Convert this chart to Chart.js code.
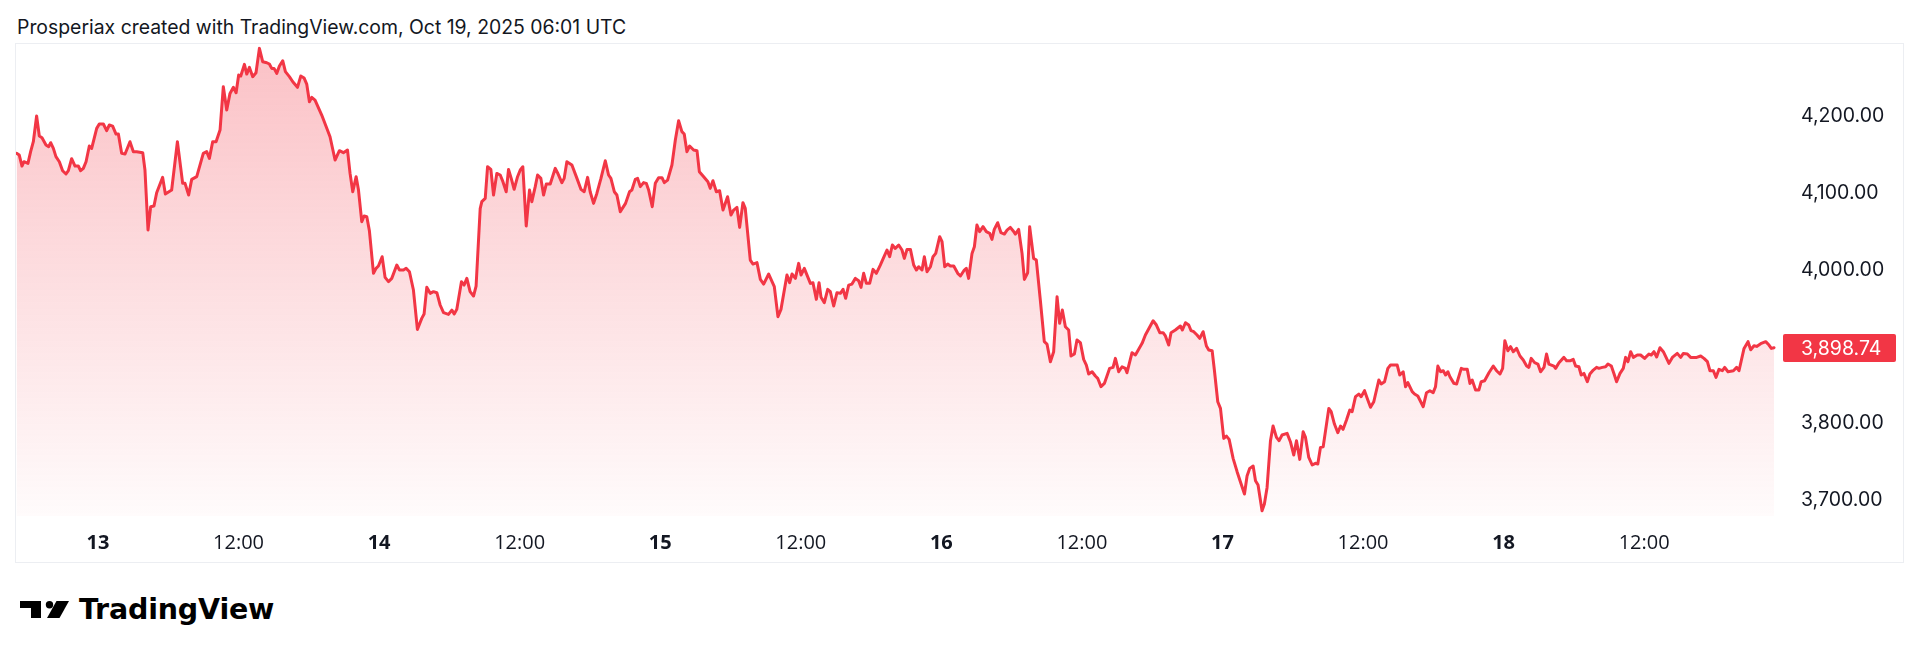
<!DOCTYPE html>
<html>
<head>
<meta charset="utf-8">
<title>ETH price - TradingView snapshot</title>
<script src="https://cdn.jsdelivr.net/npm/chart.js@4.4.1/dist/chart.umd.min.js"></script>
<style>
  html, body { margin: 0; padding: 0; background: #fff; }
  body { width: 1920px; height: 660px; position: relative; overflow: hidden; font-family: Inter, "Open Sans", sans-serif; color: #131722; }
  #title { position: absolute; left: 17px; top: 15px; font-size: 19.4px; line-height: 24px; white-space: nowrap; }
  #panel { position: absolute; left: 15px; top: 43px; width: 1887px; height: 518px; border: 1px solid #eceef2; }
  #panel canvas { display: block; }
  #logo { position: absolute; left: 20px; top: 592px; display: flex; align-items: center; height: 34px; }
  #logo span { font-family: "DejaVu Sans", Inter, sans-serif; font-weight: 700; font-size: 28.5px; margin-left: 10px; letter-spacing: -0.2px; color: #000; }
</style>
</head>
<body>
<div id="title">Prosperiax created with TradingView.com, Oct 19, 2025 06:01 UTC</div>
<div id="panel"><canvas id="priceChart" width="1887" height="518"></canvas></div>
<div id="logo">
  <svg width="49" height="17" viewBox="0 0 49 17">
    <path d="M0 0H21V17H11V7H0Z" fill="#000"/>
    <circle cx="29.5" cy="3.7" r="3.7" fill="#000"/>
    <path d="M36.5 0H49L39.5 17H27Z" fill="#000"/>
  </svg>
  <span>TradingView</span>
</div>

<script>
// hours after Oct 13 00:00 and the price at each turning point of the line
const hours = [
  -6.95, -6.72, -6.49, -6.32, -5.98, -5.75, -5.52, -5.24, -5.01, -4.78, -4.44, -4.21, -4.04, -3.81, -3.59, -3.30,
  -3.02, -2.73, -2.53, -2.25, -1.96, -1.68, -1.48, -1.25, -1.02, -0.74, -0.54, -0.11, 0.11, 0.46, 0.74, 0.97,
  1.25, 1.54, 1.74, 2.02, 2.31, 2.73, 3.02, 3.30, 3.82, 4.01, 4.27, 4.50, 4.78, 5.01, 5.52, 5.75,
  6.29, 6.78, 7.23, 7.43, 7.74, 8.00, 8.43, 8.99, 9.28, 9.51, 9.79, 10.08, 10.42, 10.70, 10.99, 11.27,
  11.56, 11.79, 12.01, 12.19, 12.50, 12.70, 12.93, 13.21, 13.49, 13.78, 14.06, 14.41, 14.63, 14.83, 15.03, 15.26,
  15.49, 15.77, 16.00, 16.34, 16.63, 17.03, 17.31, 17.60, 17.82, 18.05, 18.25, 18.53, 19.10, 19.81, 20.24, 20.61,
  20.95, 21.30, 21.52, 21.75, 22.04, 22.24, 22.52, 22.72, 22.95, 23.17, 23.52, 23.74, 23.94, 24.26, 24.51, 24.80,
  25.08, 25.51, 25.74, 26.08, 26.31, 26.59, 26.93, 27.27, 27.64, 27.84, 28.07, 28.36, 28.64, 28.93, 29.21, 29.50,
  29.92, 30.21, 30.41, 30.63, 31.03, 31.26, 31.49, 31.77, 32.06, 32.28,
  32.63, 32.77, 33.06, 33.26, 33.54, 33.77, 34.05, 34.34, 34.57, 34.85, 35.05, 35.28, 35.53, 35.82, 36.05, 36.27,
  36.56, 36.84, 37.04, 37.33, 37.53, 37.81, 38.04, 38.27, 38.61, 39.04, 39.23, 39.60, 39.80, 40.03, 40.46, 40.89,
  41.23, 41.51, 41.80, 42.02, 42.31, 42.59, 42.94, 43.31, 43.59, 43.79, 44.08, 44.30, 44.59, 45.04, 45.38, 45.58,
  45.87, 46.07, 46.30, 46.58, 46.81, 47.01, 47.32, 47.58, 47.86, 48.15, 48.35, 48.63, 49.00, 49.29, 49.57, 49.85,
  50.05, 50.28, 50.51, 50.85, 51.14, 51.34, 51.71, 52.07, 52.27, 52.50, 52.79, 53.07, 53.36, 53.75, 54.04, 54.27,
  54.55, 54.78, 55.06, 55.26, 55.69, 55.92, 56.26, 56.55, 56.83, 57.26, 57.74, 58.05, 58.31, 58.82, 59.05, 59.25,
  59.54, 59.82, 60.02, 60.30, 60.82, 61.04, 61.33, 61.56, 61.73, 62.01, 62.30, 62.52, 62.81, 63.09, 63.38, 63.61,
  63.83, 64.09, 64.37, 64.66, 64.94, 65.14, 65.37, 65.60, 65.88, 66.17, 66.45, 66.79, 67.08, 67.36, 67.59, 67.82,
  68.07, 68.36, 68.64, 68.84, 69.07, 69.36, 69.64, 69.87, 70.07, 70.35, 70.55, 70.78, 71.07, 71.29, 71.52, 71.86,
  72.06, 72.29, 72.54, 72.77, 73.06, 73.40, 73.63,
  73.96, 74.13, 74.33, 74.62, 74.82, 75.04, 75.27, 75.56, 75.84, 76.13, 76.32, 76.52, 76.81, 77.09, 77.38, 77.61,
  77.89, 78.12, 78.32, 78.60, 78.89, 79.09, 79.37, 79.54, 79.88, 80.11, 80.45, 80.79, 81.02, 81.31, 81.59, 81.88,
  82.10, 82.33, 82.59, 82.87, 83.07, 83.36, 83.58, 83.87, 84.15, 84.38, 84.58, 84.87, 85.15, 85.35, 85.63, 85.92,
  86.37, 86.66, 86.86, 87.14, 87.43, 87.71, 87.85, 88.28, 88.57, 89.14, 89.42, 90.08, 90.36, 90.65, 90.93, 91.13,
  91.41, 91.61, 91.98, 92.41, 92.58, 92.84, 93.12, 93.32, 93.55, 93.83, 94.06, 94.35, 94.63, 94.83, 95.12, 95.31,
  95.60, 95.83, 96.11, 96.34, 96.57, 96.91, 97.25, 97.53, 97.88, 98.10, 98.33, 98.62, 98.82, 99.04, 99.38, 99.58,
  99.81, 100.10, 100.32, 100.61, 100.84, 101.09, 101.52, 101.80, 102.09, 102.32, 102.60, 102.89, 103.09, 103.37, 103.66, 103.94,
  104.14, 104.37, 104.60, 105.08, 105.28, 105.56, 105.85, 106.08, 106.30, 106.59, 106.87, 107.07, 107.36, 107.64, 107.84, 108.13,
  108.41, 108.64, 108.92, 109.35, 109.55, 109.84, 110.12, 110.35, 110.92, 111.14, 111.43, 111.63, 111.83, 112.20, 112.40, 112.68,
  113.14, 113.42, 113.71, 113.99, 114.19, 114.39, 114.62,
  114.85, 115.05, 115.25, 115.42, 115.76, 115.99, 116.39, 116.61, 116.90, 117.13, 117.32, 117.61, 117.89, 118.09, 118.38, 118.75,
  119.12, 119.40, 119.69, 119.92, 120.11, 120.37, 120.60, 120.83, 121.11, 121.40, 121.68, 121.97, 122.16, 122.36, 122.65, 122.93,
  123.16, 123.45, 123.67, 123.87, 124.30, 124.44, 124.73, 125.15, 125.38, 125.72, 125.95, 126.15, 126.43, 126.63, 126.86, 127.15,
  127.37, 127.66, 127.94, 128.14, 128.43, 128.71, 128.91, 129.20, 129.42, 129.65, 129.94, 130.22, 130.42, 130.62, 130.85, 131.08,
  131.42, 131.70, 132.04, 132.41, 132.61, 132.84, 133.07, 133.35, 133.64, 134.12, 134.41, 134.83, 135.12, 135.35, 135.69, 135.97,
  136.49, 136.83, 137.11, 137.40, 137.62, 137.91, 138.14, 138.39, 138.68, 138.88, 139.16, 139.62, 139.90, 140.10, 140.53, 140.87,
  141.10, 141.38, 141.61, 141.95, 142.38, 142.66, 142.86, 143.09
];

const prices = [
  4152.1, 4149.9, 4135.6, 4141.2, 4139.1, 4154.3, 4167.3, 4200.8, 4174.7, 4172.5, 4163.0, 4160.8, 4166.0, 4158.6, 4147.8, 4141.2,
  4129.5, 4125.2, 4129.5, 4145.2, 4135.6, 4135.6, 4129.5, 4132.6, 4141.2, 4161.7, 4158.6, 4184.7, 4190.4, 4190.4, 4181.7, 4189.1,
  4187.7, 4177.3, 4177.3, 4152.1, 4151.2, 4167.3, 4154.3, 4154.3, 4153.0, 4130.4, 4052.2, 4082.6, 4083.4, 4100.8, 4120.8, 4099.1,
  4104.3, 4167.3, 4113.0, 4113.0, 4097.8, 4118.2, 4121.7, 4152.1, 4154.3, 4145.6, 4167.3, 4167.3, 4182.5, 4239.0, 4208.6, 4230.3,
  4238.2, 4231.2, 4254.2, 4252.9, 4268.1, 4255.5, 4264.2, 4252.1, 4257.3, 4289.0, 4271.6, 4270.3, 4268.6, 4262.9, 4262.9, 4256.4,
  4266.0, 4272.9, 4258.6, 4252.1, 4245.5, 4238.2, 4252.9, 4250.3, 4242.5, 4219.5, 4225.1, 4221.6, 4202.1, 4173.8, 4143.4, 4155.6,
  4153.0, 4156.5, 4126.0, 4102.1, 4121.7, 4104.3, 4063.0, 4070.4, 4069.5, 4051.3, 3995.7, 4002.2, 4005.2, 4017.4, 3990.4, 3984.8,
  3989.1, 4006.5, 4000.0, 4000.0, 4002.2, 3997.8, 3973.9, 3922.6, 3937.0, 3942.6, 3977.4, 3969.6, 3971.8, 3970.4, 3954.4, 3944.4,
  3942.2, 3947.8, 3942.6, 3948.7, 3984.8, 3980.4, 3989.1, 3971.8, 3966.1, 3979.1,
  4080.0, 4089.1, 4093.4, 4134.7, 4131.2, 4097.8, 4126.0, 4123.9, 4115.2, 4102.1, 4131.2, 4119.5, 4105.2, 4121.7, 4130.4, 4134.7,
  4057.4, 4104.3, 4089.1, 4108.7, 4123.9, 4119.5, 4097.8, 4112.1, 4112.1, 4132.6, 4126.9, 4113.9, 4119.5, 4141.2, 4136.9, 4119.5,
  4105.2, 4102.1, 4120.8, 4102.1, 4086.9, 4099.9, 4119.5, 4142.5, 4123.9, 4119.5, 4102.1, 4097.8, 4076.1, 4086.9, 4102.1, 4104.3,
  4118.2, 4119.5, 4108.7, 4114.0, 4113.0, 4104.3, 4082.6, 4113.0, 4120.4, 4120.4, 4113.9, 4117.3, 4136.9, 4169.5, 4194.7, 4180.4,
  4177.3, 4154.3, 4161.7, 4156.5, 4155.6, 4128.2, 4121.7, 4115.2, 4106.5, 4116.5, 4102.1, 4103.4, 4078.2, 4095.6, 4071.7, 4078.2,
  4081.7, 4055.6, 4087.8, 4080.4, 4013.0, 4007.8, 4009.6, 3987.8, 3981.7, 3994.8, 3978.3, 3939.2, 3948.7, 3993.5, 3983.5, 3994.8,
  3989.1, 4008.7, 3993.5, 4002.2, 3982.6, 3983.5, 3961.8, 3983.5, 3964.4, 3957.4, 3974.8, 3971.8, 3953.1, 3970.4, 3969.6, 3974.8,
  3963.1, 3980.4, 3981.7, 3989.1, 3986.1, 3977.4, 3995.7, 3982.6, 3982.6, 4000.9, 3995.7, 4006.5, 4016.5, 4026.1, 4017.4, 4032.6,
  4028.2, 4032.6, 4026.1, 4015.2, 4026.9, 4026.9, 4006.5, 4000.0, 4004.3, 4000.0, 4017.4, 3997.8, 4004.3, 4017.4, 4021.7, 4043.5,
  4036.9, 4004.3, 4007.8, 4005.2, 4005.2, 3995.7, 3992.2,
  4000.0, 4002.2, 3989.1, 4021.7, 4030.4, 4058.7, 4050.0, 4056.5, 4050.0, 4047.8, 4040.0, 4053.0, 4061.7, 4048.7, 4046.9, 4052.1,
  4055.6, 4051.3, 4046.9, 4053.0, 4021.7, 3987.8, 3996.5, 4056.5, 4015.2, 4013.0, 3960.9, 3906.6, 3903.5, 3880.5, 3893.5, 3965.2,
  3930.5, 3947.8, 3926.1, 3921.8, 3887.9, 3890.5, 3908.7, 3905.3, 3883.5, 3876.1, 3864.4, 3867.4, 3861.8, 3858.8, 3847.9, 3852.2,
  3871.8, 3873.1, 3884.8, 3867.4, 3873.9, 3871.8, 3866.1, 3892.2, 3889.2, 3904.4, 3915.3, 3933.9, 3928.3, 3918.3, 3918.3, 3914.0,
  3902.2, 3918.3, 3921.8, 3927.0, 3921.8, 3931.3, 3928.3, 3920.9, 3919.6, 3915.3, 3910.9, 3919.6, 3900.9, 3895.7, 3894.8, 3869.6,
  3828.3, 3819.6, 3780.5, 3783.5, 3779.2, 3754.5, 3737.1, 3724.0, 3707.9, 3731.4, 3741.4, 3744.4, 3725.3, 3719.7, 3686.2, 3694.9,
  3716.6, 3777.5, 3796.6, 3781.8, 3777.5, 3784.9, 3787.0, 3776.2, 3758.8, 3777.5, 3753.1, 3789.2, 3781.8, 3755.7, 3745.8, 3748.0,
  3747.1, 3768.8, 3769.6, 3819.6, 3815.3, 3799.2, 3787.9, 3796.6, 3792.3, 3804.4, 3817.4, 3815.3, 3834.9, 3838.3, 3834.9, 3842.7,
  3830.5, 3821.0, 3828.3, 3856.6, 3851.4, 3854.4, 3871.8, 3876.1, 3876.1, 3863.1, 3867.4, 3847.9, 3853.2, 3841.4, 3838.3, 3835.7,
  3821.8, 3840.1, 3842.7, 3840.1, 3847.9, 3874.8, 3867.4,
  3868.7, 3863.1, 3867.4, 3860.9, 3852.2, 3851.4, 3871.8, 3870.5, 3870.5, 3852.2, 3856.6, 3843.5, 3843.5, 3854.4, 3855.7, 3866.1,
  3874.8, 3868.7, 3864.4, 3871.8, 3907.9, 3894.8, 3900.1, 3893.5, 3897.8, 3887.9, 3882.7, 3874.8, 3873.1, 3884.8, 3879.2, 3877.4,
  3867.4, 3873.1, 3890.5, 3877.4, 3874.8, 3871.8, 3879.2, 3886.1, 3881.8, 3881.8, 3883.5, 3874.8, 3873.9, 3863.1, 3865.2, 3854.4,
  3864.4, 3869.6, 3873.1, 3871.8, 3873.1, 3873.9, 3877.4, 3874.8, 3865.2, 3854.4, 3865.2, 3871.8, 3886.1, 3880.5, 3893.5, 3886.1,
  3889.2, 3889.2, 3884.8, 3890.5, 3889.2, 3893.5, 3886.6, 3898.7, 3893.5, 3878.3, 3886.1, 3891.3, 3886.1, 3891.3, 3890.5, 3886.1,
  3886.1, 3887.9, 3884.8, 3880.5, 3868.7, 3868.7, 3860.1, 3870.5, 3868.7, 3873.1, 3867.4, 3868.7, 3873.1, 3868.7, 3897.8, 3906.6,
  3896.1, 3901.3, 3900.4, 3903.9, 3906.6, 3902.2, 3897.8, 3898.74
];

// axis ticks
const xTickHours = [0, 12, 24, 36, 48, 60, 72, 84, 96, 108, 120, 132];
const dayLabels = ['13', '14', '15', '16', '17', '18'];
const halfDayLabel = '12:00';
const yTicks = [3700, 3800, 3900, 4000, 4100, 4200];
const yHiddenTicks = [3900]; // covered by the last-price badge
const lastPrice = 3898.74;

// visible window
const xMin = -7.0, xMax = 143.6;
const yMin = 3679.3, yMax = 4294.7;

const RED = '#f23645';
const TEXT = '#131722';
const FONT = 'Inter, "Open Sans", sans-serif';
const TIME_FONT = '"Open Sans", Inter, sans-serif'; // tabular digits, closer to the original time scale
const FONT_SIZE = 19.5;

const fmt = v => v.toLocaleString('en-US', { minimumFractionDigits: 2, maximumFractionDigits: 2 });

// badge with the last price on the price scale
const lastPricePlugin = {
    id: 'lastPrice',
    afterDraw(chart) {
        const c = chart.ctx;
        const y = chart.scales.y.getPixelForValue(lastPrice);
        const left = chart.chartArea.right + 3;
        const w = 113, h = 28;
        c.save();
        c.fillStyle = RED;
        c.beginPath();
        c.roundRect(left, Math.round(y - h / 2), w, h, 2);
        c.fill();
        c.fillStyle = '#ffffff';
        c.font = FONT_SIZE + 'px ' + FONT;
        c.textAlign = 'left';
        c.textBaseline = 'middle';
        c.fillText(fmt(lastPrice), chart.chartArea.right + 21, y + 1);
        c.restore();
    }
};

// drop the automatic label padding so the plot fills the panel like the original
const noPadding = (scale) => {
    scale.paddingTop = 0;
    scale.paddingBottom = 0;
    scale.paddingLeft = 0;
    scale.paddingRight = 0;
};

const points = hours.map((h, i) => ({ x: h, y: prices[i] }));

new Chart(document.getElementById('priceChart'), {
    type: 'line',
    data: {
        datasets: [{
            data: points,
            borderColor: RED,
            borderWidth: 3,
            borderJoinStyle: 'round',
            borderCapStyle: 'round',
            pointRadius: 0,
            tension: 0,
            fill: 'start',
            backgroundColor: (ctx) => {
                const area = ctx.chart.chartArea;
                if (!area) return 'rgba(242,54,69,0.15)';
                const g = ctx.chart.ctx.createLinearGradient(0, area.top, 0, area.bottom);
                g.addColorStop(0, 'rgba(242,54,69,0.31)');
                g.addColorStop(1, 'rgba(242,54,69,0.02)');
                return g;
            }
        }]
    },
    options: {
        responsive: false,
        animation: false,
        devicePixelRatio: 1,
        layout: { padding: 0, autoPadding: false },
        plugins: {
            legend: { display: false },
            tooltip: { enabled: false }
        },
        scales: {
            x: {
                type: 'linear',
                min: xMin,
                max: xMax,
                afterBuildTicks: (scale) => { scale.ticks = xTickHours.map(v => ({ value: v })); },
                afterFit: (scale) => { scale.height = 46; noPadding(scale); },
                grid: { display: false, drawTicks: false },
                border: { display: false },
                ticks: {
                    autoSkip: false,
                    maxRotation: 0,
                    padding: 15,
                    color: TEXT,
                    font: (ctx) => ({
                        family: TIME_FONT,
                        size: 20,
                        weight: ctx.tick && ctx.tick.value % 24 === 0 ? '700' : '400'
                    }),
                    callback: (v) => (v % 24 === 0 ? dayLabels[v / 24] : halfDayLabel)
                }
            },
            y: {
                position: 'right',
                min: yMin,
                max: yMax,
                afterBuildTicks: (scale) => { scale.ticks = yTicks.filter(v => !yHiddenTicks.includes(v)).map(v => ({ value: v })); },
                afterFit: (scale) => { scale.width = 123; noPadding(scale); },
                grid: { display: false, drawTicks: false },
                border: { display: false },
                ticks: {
                    padding: 21,
                    color: TEXT,
                    font: { family: FONT, size: FONT_SIZE },
                    callback: (v) => fmt(v)
                }
            }
        }
    },
    plugins: [lastPricePlugin]
});
</script>
</body>
</html>
